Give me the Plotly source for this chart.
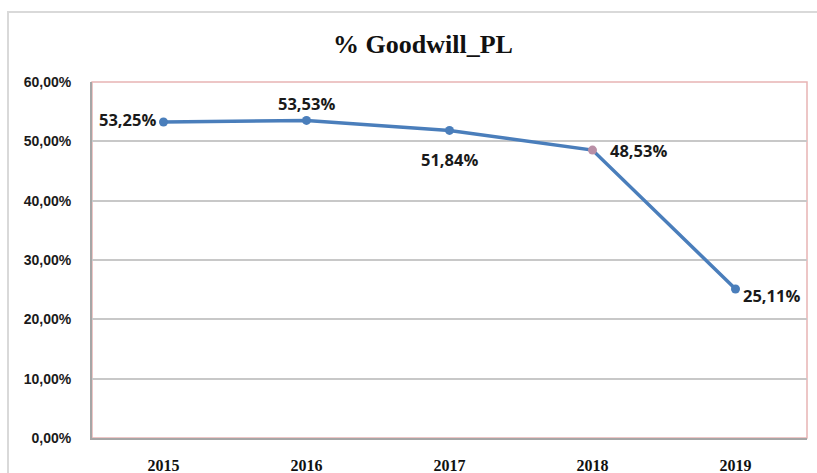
import plotly.graph_objects as go

# Share of goodwill in profit/loss, by year
years = ["2015", "2016", "2017", "2018", "2019"]
goodwill_pct = [53.25, 53.53, 51.84, 48.53, 25.11]
y_ticks = [0, 10, 20, 30, 40, 50, 60]
y_tick_text = ["0,00%", "10,00%", "20,00%", "30,00%", "40,00%", "50,00%", "60,00%"]
chart_title = "% Goodwill_PL"

marker_colors = ["#4a7ebb", "#4a7ebb", "#4a7ebb", "#b98fa6", "#4a7ebb"]

# label placement per point: (xanchor, yanchor, xshift, yshift)
label_pos = [
    ("right", "middle", -6, 3),
    ("center", "bottom", 0, 3),
    ("center", "top", 0, -16),
    ("left", "middle", 15, 0),
    ("left", "middle", 5, -6),
]

L, R, T, B = 92, 10, 82, 35
W, H = 817, 473
pw, ph = W - L - R, H - T - B

fig = go.Figure()
fig.add_trace(go.Scatter(
    x=years, y=goodwill_pct, mode="lines+markers",
    line=dict(color="#4a7ebb", width=3.5),
    marker=dict(size=9, color=marker_colors),
    hoverinfo="skip", showlegend=False,
))

for i, (yr, v) in enumerate(zip(years, goodwill_pct)):
    xa, ya, xs, ys = label_pos[i]
    label = f"{v:.2f}".replace(".", ",") + "%"
    fig.add_annotation(
        x=i, y=v, xref="x", yref="y", text="<b>" + label + "</b>",
        showarrow=False, xanchor=xa, yanchor=ya, xshift=xs, yshift=ys,
        font=dict(family="Open Sans, sans-serif", size=16.5, color="#1a1a1a"),
    )

# chart title
fig.add_annotation(
    x=(423 - L) / pw, y=1 + (T - 44) / ph, xref="paper", yref="paper",
    text=chart_title, showarrow=False, xanchor="center", yanchor="middle",
    font=dict(family="Times New Roman, Liberation Serif, serif", size=26,
              color="#111111", weight="bold"),
)

# outer chart frame
fig.add_shape(type="rect", xref="paper", yref="paper",
              x0=(8 - L) / pw, x1=(W + 20 - L) / pw,
              y0=-(B + 20) / ph, y1=1 + (T - 12) / ph,
              line=dict(color="#d9d9d9", width=2), layer="below")
# plot area frame
fig.add_shape(type="rect", xref="paper", yref="paper",
              x0=0, x1=1, y0=0, y1=1,
              line=dict(color="#e8b4b4", width=1.5), layer="below")

fig.update_layout(
    width=W, height=H,
    margin=dict(l=L, r=R, t=T, b=B, autoexpand=False),
    paper_bgcolor="white", plot_bgcolor="white",
    xaxis=dict(
        type="category", range=[-0.5, 4.5],
        showgrid=False, showline=True, linecolor="#a6a6a6", linewidth=2,
        ticks="", ticklabelstandoff=12,
        tickfont=dict(family="Liberation Serif, serif", size=16, color="#111111", weight="bold"),
    ),
    yaxis=dict(
        range=[0, 60], tickvals=y_ticks, ticktext=y_tick_text,
        showgrid=True, gridcolor="#c8c8c8", gridwidth=1.5,
        showline=True, linecolor="#a6a6a6", linewidth=2,
        zeroline=False, ticks="", ticklabelstandoff=16,
        tickfont=dict(family="Liberation Sans, sans-serif", size=14, color="#1a1a1a", weight="bold"),
    ),
)

fig.write_html("out.html")
